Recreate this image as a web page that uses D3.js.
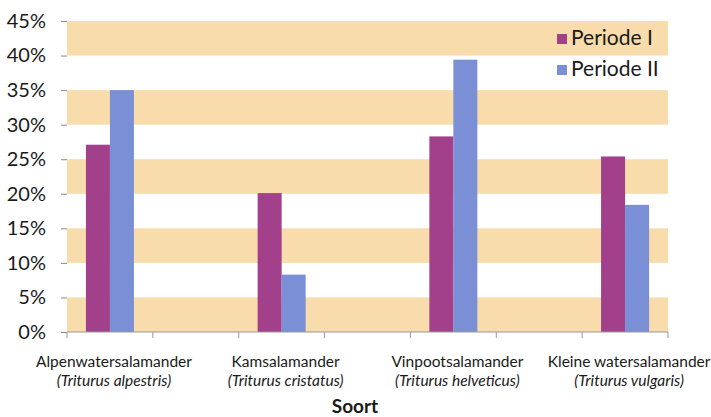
<!DOCTYPE html>
<html lang="nl">
<head>
<meta charset="UTF-8">
<script src="https://d3js.org/d3.v7.min.js"></script>
<style>
  body { margin: 0; background: #fff; }
  svg { display: block; font-family: Lato, "Open Sans", sans-serif; }
</style>
</head>
<body>
<svg id="chart" width="711" height="417"></svg>
<script>
// soorten (lege plekken tussen de groepen horen bij de originele as)
var slots = ["a", "gap1", "b", "gap2", "c", "gap3", "d"];
var species = ["Alpenwatersalamander", "Kamsalamander", "Vinpootsalamander", "Kleine watersalamander"];
var latin = ["(Triturus alpestris)", "(Triturus cristatus)", "(Triturus helveticus)", "(Triturus vulgaris)"];
var speciesSlot = ["a", "b", "c", "d"];
var periodes = ["Periode I", "Periode II"];
var periode1 = [27.1, 20.1, 28.3, 25.4];
var periode2 = [35.0, 8.3, 39.4, 18.4];
var yTicks = [0, 5, 10, 15, 20, 25, 30, 35, 40, 45];
var colors = ["#a2408c", "#7b8fd6"];

var svg = d3.select("#chart");
var mLeft = 67, mRight = 668, mTop = 21, mBottom = 332;

var x = d3.scaleBand().domain(slots).range([mLeft, mRight]);
var xInner = d3.scaleBand().domain(periodes).range([0, 48]);
var y = d3.scaleLinear().domain([0, 45]).range([mBottom, mTop]);

// oranje banden
var bands = [[0, 5], [10, 15], [20, 25], [30, 35], [40, 45]];
svg.append("g").selectAll("rect").data(bands).join("rect")
  .attr("x", mLeft).attr("width", mRight - mLeft)
  .attr("y", d => y(d[1])).attr("height", d => y(d[0]) - y(d[1]))
  .attr("fill", "#f8dcac");

// balken
var rows = species.map((s, i) => ({slot: speciesSlot[i], vals: [periode1[i], periode2[i]]}));
var groups = svg.append("g").selectAll("g").data(rows).join("g")
  .attr("transform", d => "translate(" + (x(d.slot) + x.bandwidth() / 2 - 24) + ",0)");
groups.selectAll("rect").data(d => d.vals.map((v, j) => ({p: periodes[j], v: v, c: colors[j]})))
  .join("rect")
  .attr("x", d => xInner(d.p)).attr("width", xInner.bandwidth())
  .attr("y", d => y(d.v)).attr("height", d => mBottom - y(d.v))
  .attr("fill", d => d.c);

// y-as
var yAxis = svg.append("g").attr("transform", "translate(" + mLeft + ",0)")
  .call(d3.axisLeft(y).tickValues(yTicks).tickSize(6).tickPadding(15).tickFormat(d => d + "%"));
yAxis.select(".domain").remove();
yAxis.selectAll(".tick line").attr("stroke", "#888");
yAxis.selectAll(".tick text").attr("font-size", 20).attr("fill", "#1a1a1a")
  .attr("font-family", "Lato, sans-serif");

// x-as
var xEdges = slots.map(s => x(s)).concat([mRight]);
var xAxis = svg.append("g");
xAxis.append("line").attr("x1", mLeft).attr("x2", mRight).attr("y1", mBottom).attr("y2", mBottom)
  .attr("stroke", "#999");
xAxis.selectAll("line.t").data(xEdges).join("line").attr("class", "t")
  .attr("x1", d => d).attr("x2", d => d).attr("y1", mBottom).attr("y2", mBottom + 6)
  .attr("stroke", "#999");

// categorie labels
var lab = svg.append("g").selectAll("text").data(species).join("text")
  .attr("x", (d, i) => x(speciesSlot[i]) + x.bandwidth() / 2 + 4)
  .attr("text-anchor", "middle").attr("font-size", 15.5).attr("fill", "#1a1a1a");
lab.append("tspan").attr("y", 367).text(d => d);
lab.append("tspan").attr("y", 386).attr("x", (d, i) => x(speciesSlot[i]) + x.bandwidth() / 2 + 4)
  .attr("font-style", "italic").text((d, i) => latin[i]);

svg.append("text").attr("x", 355).attr("y", 413).attr("text-anchor", "middle")
  .attr("font-size", 19).attr("font-weight", "bold").attr("fill", "#1a1a1a").text("Soort");

// legenda
var leg = svg.append("g").selectAll("g").data(periodes).join("g")
  .attr("transform", (d, i) => "translate(557," + (34 + i * 31) + ")");
leg.append("rect").attr("width", 10).attr("height", 10).attr("fill", (d, i) => colors[i]);
leg.append("text").attr("x", 14).attr("y", 11).attr("font-size", 21).attr("fill", "#1a1a1a").text(d => d);
</script>
</body>
</html>
